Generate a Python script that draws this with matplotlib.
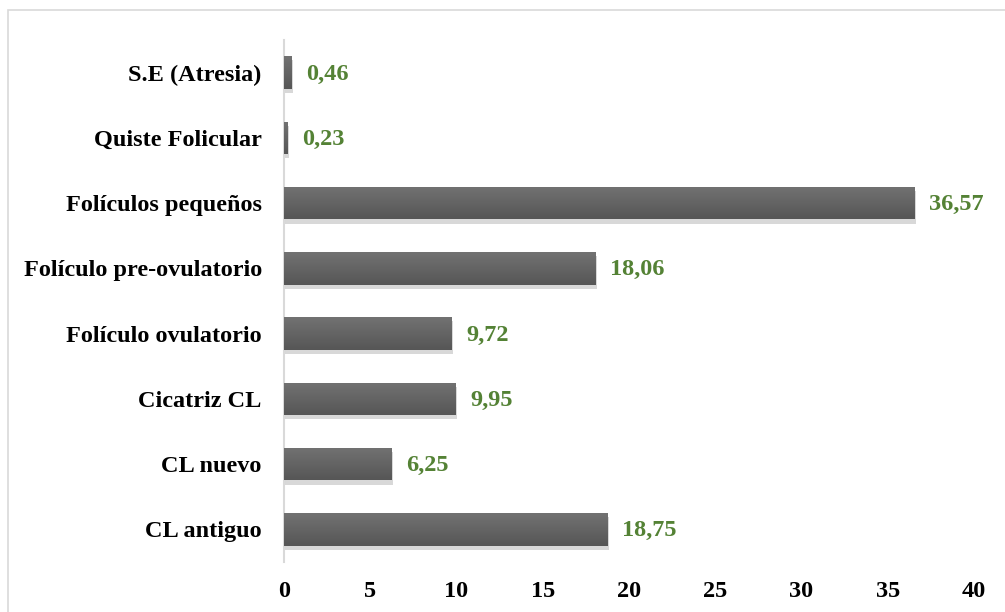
import matplotlib.pyplot as plt
import matplotlib.patheffects as pe
from matplotlib.patches import Rectangle
from matplotlib.colors import LinearSegmentedColormap
import numpy as np

categorias = ['CL antiguo', 'CL nuevo', 'Cicatriz CL', 'Folículo ovulatorio',
              'Folículo pre-ovulatorio', 'Folículos pequeños', 'Quiste Folicular',
              'S.E (Atresia)']
valores = [18.75, 6.25, 9.95, 9.72, 18.06, 36.57, 0.23, 0.46]
etiquetas = ['18,75', '6,25', '9,95', '9,72', '18,06', '36,57', '0,23', '0,46']

plt.rcParams['font.family'] = ['Liberation Serif', 'DejaVu Serif']
plt.rcParams['font.weight'] = 'bold'

fig = plt.figure(figsize=(10.05, 6.12), dpi=100)
ax = fig.add_axes([284/1005, 1-562/612, (974-284)/1005, (562-40)/612])

# marco gris claro del grafico
fig.patches.append(Rectangle((8/1005, -0.05), 1.1, 1-10/612+0.05,
                             transform=fig.transFigure, fill=False,
                             edgecolor='#d9d9d9', linewidth=1.2))

y = range(len(categorias))
barras = ax.barh(y, valores, height=0.5, color='#616161', zorder=3)
for b in barras:
    b.set_path_effects([pe.SimplePatchShadow(offset=(1, -3), shadow_rgbFace='#c8c8c8', alpha=0.7),
                        pe.Normal()])

# degradado vertical dentro de cada barra
cmap = LinearSegmentedColormap.from_list('gris', ['#565656', '#727272'])
grad = np.linspace(0, 1, 64).reshape(-1, 1)
for b in barras:
    x0, y0, w, h = b.get_x(), b.get_y(), b.get_width(), b.get_height()
    im = ax.imshow(grad, extent=[x0, x0 + w, y0, y0 + h], origin='lower',
                   aspect='auto', cmap=cmap, zorder=4)
    im.set_clip_path(b)

for i, (v, t) in enumerate(zip(valores, etiquetas)):
    ax.annotate(t, (v, i), xytext=(10.5, -1), textcoords='offset points',
                va='center', ha='left', color='#548235', fontsize=17.5, fontweight='bold')

ax.set_xlim(0, 40)
ax.set_ylim(-0.5, len(categorias) - 0.5)
ax.set_xticks(range(0, 41, 5))
ax.set_yticks(list(y))
ax.set_yticklabels(categorias)
ax.tick_params(axis='y', length=0, pad=16, labelsize=17.5)
ax.tick_params(axis='x', length=0, pad=14, labelsize=17.5)
for s in ['top', 'right', 'bottom']:
    ax.spines[s].set_visible(False)
ax.spines['left'].set_color('#d9d9d9')
ax.spines['left'].set_linewidth(1.5)

fig.savefig('out.png', dpi=100)
